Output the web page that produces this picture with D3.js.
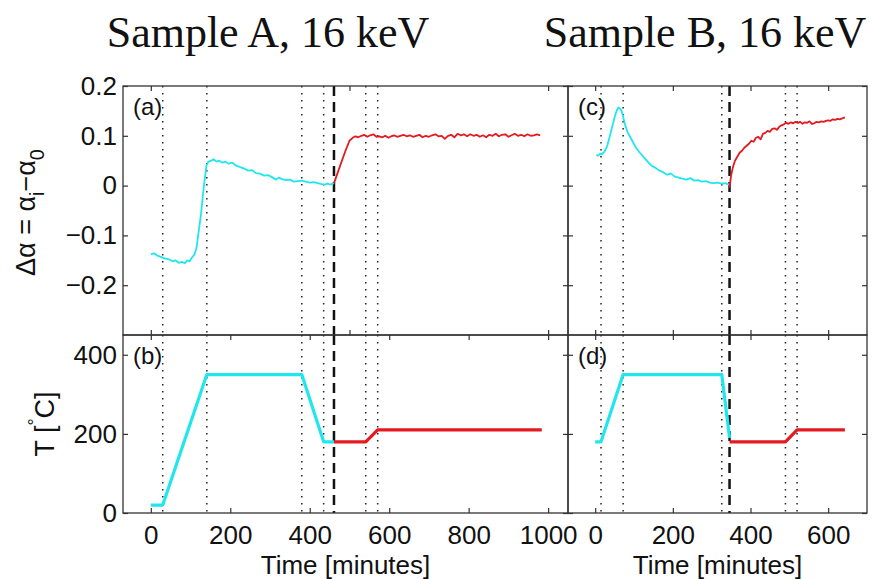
<!DOCTYPE html>
<html>
<head>
<meta charset="utf-8">
<script src="https://cdn.jsdelivr.net/npm/d3@7"></script>
<style>
  body { margin: 0; background: #fff; }
  text { font-family: "Liberation Sans", Arial, sans-serif; fill: #111; }
</style>
</head>
<body>
<div id="fig"></div>
<script>
// ---- data: [time (min), value] ----
const titles = ["Sample A, 16 keV", "Sample B, 16 keV"];
const panelLetters = [["(a)", "(b)"], ["(c)", "(d)"]];

// Sample A, delta alpha
const alphaA_anneal = [
  [0,-0.138],[8,-0.136],[15,-0.140],[25,-0.143],[35,-0.146],[45,-0.148],[55,-0.152],[62,-0.150],
  [70,-0.155],[78,-0.153],[85,-0.156],[92,-0.150],[98,-0.152],[104,-0.144],[110,-0.138],[115,-0.125],
  [120,-0.095],[126,-0.060],[131,-0.020],[136,0.015],[140,0.040],[145,0.048],[152,0.050],[158,0.053],
  [165,0.048],[172,0.050],[180,0.046],[188,0.048],[196,0.044],[205,0.046],[215,0.040],[225,0.037],
  [235,0.034],[245,0.030],[255,0.031],[265,0.025],[275,0.024],[285,0.020],[295,0.021],[305,0.017],
  [315,0.012],[322,0.016],[330,0.013],[340,0.011],[350,0.012],[360,0.008],[370,0.009],[380,0.010],
  [390,0.008],[400,0.006],[410,0.007],[420,0.005],[430,0.003],[438,0.002],[445,0.004],[452,0.002],[461,0.005]
];
const alphaA_hold = [
  [461,0.005],[470,0.025],[480,0.048],[490,0.070],[500,0.090],[508,0.096],[515,0.099],[522,0.097],
  [530,0.100],[537,0.102],[545,0.098],[552,0.101],[560,0.103],[568,0.098],[575,0.099],[583,0.097],
  [590,0.100],[598,0.096],[605,0.099],[612,0.101],[620,0.098],[628,0.100],[636,0.102],[644,0.099],
  [652,0.101],[660,0.098],[668,0.100],[676,0.102],[684,0.097],[692,0.100],[700,0.098],[708,0.101],
  [716,0.103],[724,0.099],[732,0.100],[740,0.094],[748,0.100],[756,0.102],[764,0.097],[772,0.104],
  [780,0.101],[788,0.103],[796,0.099],[804,0.103],[812,0.100],[820,0.102],[828,0.098],[836,0.101],
  [844,0.097],[852,0.102],[860,0.100],[868,0.104],[876,0.099],[884,0.102],[892,0.103],[900,0.098],
  [908,0.101],[916,0.104],[924,0.100],[932,0.102],[940,0.099],[948,0.103],[956,0.100],[964,0.101],
  [972,0.103],[980,0.101]
];
// Sample A, temperature
const tempA_anneal = [[0,20],[30,20],[141,350],[380,350],[435,180],[461,180]];
const tempA_hold = [[461,180],[541,180],[571,210],[984,210]];
const markersA = [30, 141, 380, 435, 541, 571];
const switchA = 461;

// Sample B, delta alpha
const alphaB_anneal = [
  [3,0.062],[8,0.060],[13,0.064],[18,0.063],[24,0.068],[31,0.080],[38,0.100],[45,0.122],[51,0.140],
  [56,0.152],[60,0.157],[64,0.155],[68,0.150],[72,0.138],[77,0.122],[83,0.108],[90,0.098],[98,0.086],
  [106,0.075],[115,0.066],[125,0.057],[135,0.048],[145,0.040],[155,0.036],[165,0.030],[175,0.027],
  [185,0.022],[195,0.024],[205,0.018],[215,0.016],[225,0.014],[235,0.012],[245,0.015],[255,0.010],
  [265,0.011],[275,0.008],[285,0.009],[295,0.006],[305,0.005],[315,0.006],[325,0.004],[335,0.005],
  [341,0.003],[346,0.002]
];
const alphaB_hold = [
  [346,-0.004],[350,0.020],[355,0.038],[360,0.050],[366,0.058],[372,0.066],[378,0.070],[384,0.076],
  [390,0.080],[396,0.084],[402,0.090],[408,0.088],[414,0.096],[420,0.098],[426,0.093],[432,0.104],
  [438,0.106],[444,0.110],[450,0.108],[456,0.114],[462,0.115],[468,0.112],[474,0.118],[480,0.121],
  [486,0.123],[492,0.126],[498,0.124],[504,0.127],[510,0.125],[516,0.128],[522,0.126],[528,0.128],
  [534,0.124],[540,0.127],[546,0.126],[552,0.129],[558,0.124],[564,0.125],[570,0.128],[576,0.127],
  [582,0.129],[588,0.128],[594,0.130],[600,0.131],[606,0.130],[612,0.133],[618,0.132],[624,0.134],
  [630,0.133],[636,0.135],[643,0.137]
];
// Sample B, temperature
const tempB_anneal = [[0,180],[15,180],[72,350],[326,350],[346,190]];
const tempB_hold = [[346,180],[490,180],[520,210],[643,210]];
const markersB = [15, 72, 326, 490, 520];
const switchB = 346;

const alphaTicks = [-0.2, -0.1, 0, 0.1, 0.2];
const tempTicks = [0, 200, 400];
const timeTicksA = [0, 200, 400, 600, 800, 1000];
const timeTicksATop = [0, 500, 1000];
const timeTicksB = [0, 200, 400, 600];

// ---- layout ----
const width = 875, height = 579;
const topY = [86, 335], botY = [335, 513];
const cyan = "#22e6ee", red = "#e41a1f";

const svg = d3.select("#fig").append("svg")
  .attr("width", width).attr("height", height);

const yAlpha = d3.scaleLinear().domain([-0.3, 0.2]).range([topY[1], topY[0]]);
const yTemp = d3.scaleLinear().domain([0, 450]).range([botY[1], botY[0]]);

const samples = [
  { x: d3.scaleLinear().domain([-70, 1050]).range([123, 568]),
    alpha: [alphaA_anneal, alphaA_hold], temp: [tempA_anneal, tempA_hold],
    markers: markersA, sw: switchA, ticksTop: timeTicksATop, ticksBot: timeTicksA, yLabels: true },
  { x: d3.scaleLinear().domain([-70, 700]).range([568, 867]),
    alpha: [alphaB_anneal, alphaB_hold], temp: [tempB_anneal, tempB_hold],
    markers: markersB, sw: switchB, ticksTop: timeTicksB, ticksBot: timeTicksB, yLabels: false }
];

function drawPanel(s, y, yr, ticksY, xTicks, data, lineW, letter, showXLabels, showYLabels) {
  const g = svg.append("g");
  const [x0, x1] = s.x.range();

  // guide lines
  s.markers.forEach(m => {
    g.append("line")
      .attr("x1", s.x(m)).attr("x2", s.x(m)).attr("y1", yr[0]).attr("y2", yr[1])
      .attr("stroke", "#222").attr("stroke-width", 1.5).attr("stroke-dasharray", "1.5,5.5");
  });
  g.append("line")
    .attr("x1", s.x(s.sw)).attr("x2", s.x(s.sw)).attr("y1", yr[0]).attr("y2", yr[1])
    .attr("stroke", "#111").attr("stroke-width", 2.5).attr("stroke-dasharray", "10,6");

  const line = d3.line().x(d => s.x(d[0])).y(d => y(d[1]));
  [cyan, red].forEach((c, i) => {
    g.append("path").datum(data[i])
      .attr("fill", "none").attr("stroke", c).attr("stroke-width", lineW)
      .attr("stroke-linejoin", "round").attr("d", line);
  });

  // frame
  g.append("rect").attr("x", x0).attr("y", yr[0]).attr("width", x1 - x0).attr("height", yr[1] - yr[0])
    .attr("fill", "none").attr("stroke", "#333").attr("stroke-width", 1.3);

  // inward ticks on all four sides
  g.append("g").attr("transform", `translate(0,${yr[1]})`)
    .call(d3.axisBottom(s.x).tickValues(xTicks.bot).tickSizeInner(-5).tickSizeOuter(0)
      .tickPadding(13).tickFormat(showXLabels ? d3.format("d") : ""));
  g.append("g").attr("transform", `translate(0,${yr[0]})`)
    .call(d3.axisTop(s.x).tickValues(xTicks.top).tickSizeInner(-5).tickSizeOuter(0).tickFormat(""));
  g.append("g").attr("transform", `translate(${x0},0)`)
    .call(d3.axisLeft(y).tickValues(ticksY).tickSizeInner(-5).tickSizeOuter(0)
      .tickPadding(6).tickFormat(showYLabels ? (d => d3.format("")(d).replace("-", "\u2212")) : ""));
  g.append("g").attr("transform", `translate(${x1},0)`)
    .call(d3.axisRight(y).tickValues(ticksY).tickSizeInner(-5).tickSizeOuter(0).tickFormat(""));

  g.selectAll(".domain").remove();
  g.selectAll(".tick line").attr("stroke", "#333").attr("stroke-width", 1.2);
  g.selectAll(".tick text").style("font-size", "26px").attr("fill", "#111")
    .style("font-family", "'Liberation Sans', Arial, sans-serif");

  g.append("text").attr("x", x0 + 10).attr("y", yr[0] + 29)
    .style("font-size", "24px").text(letter);
}

samples.forEach((s, i) => {
  drawPanel(s, yAlpha, topY, alphaTicks, { top: s.ticksTop, bot: s.ticksTop },
    s.alpha, 1.8, panelLetters[i][0], false, s.yLabels);
  drawPanel(s, yTemp, botY, tempTicks, { top: s.ticksBot, bot: s.ticksBot },
    s.temp, 3.2, panelLetters[i][1], true, s.yLabels);

  const [x0, x1] = s.x.range();
  svg.append("text").attr("x", (x0 + x1) / 2).attr("y", 574)
    .attr("text-anchor", "middle").style("font-size", "26px").text("Time [minutes]");
});

// titles
[268, 705].forEach((cx, i) => {
  svg.append("text").attr("x", cx).attr("y", 47).attr("text-anchor", "middle")
    .style("font-family", "'Liberation Serif', 'Times New Roman', serif")
    .style("font-size", "44px").text(titles[i]);
});

// y labels
const yl1 = svg.append("text")
  .attr("transform", `translate(35,${(topY[0] + topY[1]) / 2 + 2}) rotate(-90)`)
  .attr("text-anchor", "middle").style("font-size", "27px");
yl1.append("tspan").text("\u0394\u03b1 = \u03b1");
yl1.append("tspan").attr("dy", 9).style("font-size", "20px").text("i");
yl1.append("tspan").attr("dy", -9).text("\u2212\u03b1");
yl1.append("tspan").attr("dy", 9).style("font-size", "20px").text("0");

const yl2 = svg.append("text")
  .attr("transform", `translate(54,${(botY[0] + botY[1]) / 2}) rotate(-90)`)
  .attr("text-anchor", "middle").style("font-size", "27px");
yl2.append("tspan").text("T [");
yl2.append("tspan").attr("dy", -13).style("font-size", "18px").text("\u00b0");
yl2.append("tspan").attr("dy", 13).text("C]");
</script>
</body>
</html>
